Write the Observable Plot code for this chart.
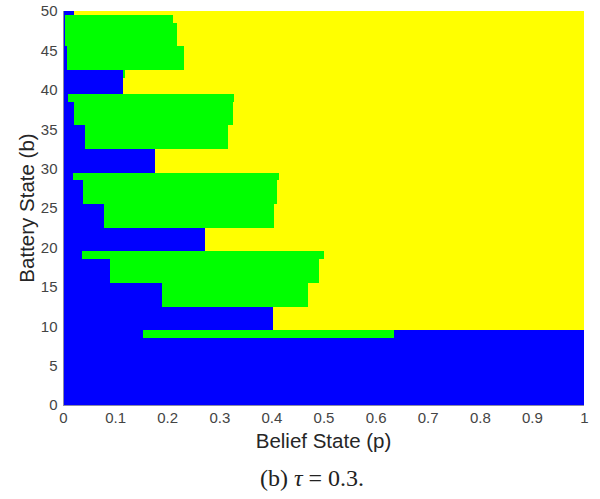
<!DOCTYPE html>
<html>
<head>
<meta charset="utf-8">
<script src="https://cdn.jsdelivr.net/npm/d3@7"></script>
<script src="https://cdn.jsdelivr.net/npm/@observablehq/plot@0.6"></script>
<style>
  body { margin: 0; background: #fff; }
  #wrap { position: relative; width: 600px; height: 499px; }
  #caption { position: absolute; left: 0; top: 464px; width: 600px; padding-left: 24px; box-sizing: border-box;
             text-align: center; font-family: "Liberation Serif", "Times New Roman", serif; font-size: 24px; color: #222; line-height: 28px; }
</style>
</head>
<body>
<div id="wrap"></div>
<script>
// Battery states (rows of the policy map)
const battery = [0,1,2,3,4,5,6,7,8,9,10,11,12,13,14,15,16,17,18,19,20,21,22,23,24,25,26,27,28,29,30,31,32,33,34,35,36,37,38,39,40,41,42,43,44,45,46,47,48,49,50];
// Belief threshold where action 1 (blue) ends
const action1End = [1,1,1,1,1,1,1,1,1,0.154,
  0.4025,0.4025,0.4025,0.19,0.19,0.19,0.09,0.09,0.09,0.037,
  0.272,0.272,0.272,0.079,0.079,0.079,0.039,0.039,0.039,0.020,
  0.177,0.177,0.177,0.042,0.042,0.042,0.021,0.021,0.021,0.010,
  0.1145,0.1145,0.1145,0.007,0.007,0.007,0.004,0.004,0.004,0.003,
  0.021];
// Belief threshold where action 2 (green) ends
const action2End = [1,1,1,1,1,1,1,1,1,0.636,
  0.4025,0.4025,0.4025,0.47,0.47,0.47,0.492,0.492,0.492,0.50,
  0.272,0.272,0.272,0.405,0.405,0.405,0.411,0.411,0.411,0.415,
  0.177,0.177,0.177,0.317,0.317,0.317,0.326,0.326,0.326,0.329,
  0.1145,0.1145,0.119,0.232,0.232,0.232,0.218,0.218,0.218,0.2105,
  0.021];
// Action taken above the second threshold
const tailAction = ["A1","A1","A1","A1","A1","A1","A1","A1","A1","A1",
  "A3","A3","A3","A3","A3","A3","A3","A3","A3","A3",
  "A3","A3","A3","A3","A3","A3","A3","A3","A3","A3",
  "A3","A3","A3","A3","A3","A3","A3","A3","A3","A3",
  "A3","A3","A3","A3","A3","A3","A3","A3","A3","A3",
  "A3"];
const actions = ["A1","A2","A3"];
const xTicks = [0,0.1,0.2,0.3,0.4,0.5,0.6,0.7,0.8,0.9,1];
const xTickLabels = ["0","0.1","0.2","0.3","0.4","0.5","0.6","0.7","0.8","0.9","1"];
const yTicks = [0,5,10,15,20,25,30,35,40,45,50];

const cells = [];
battery.forEach((b, i) => {
  const y1 = Math.max(0, b - 0.5), y2 = Math.min(50, b + 0.5);
  const segs = [[0, action1End[i], "A1"], [action1End[i], action2End[i], "A2"], [action2End[i], 1, tailAction[i]]];
  for (const [x1, x2, a] of segs) if (x2 > x1) cells.push({b, x1, x2, y1, y2, action: a});
});

const W = 600, H = 455, ML = 63, MR = 16, MT = 11, MB = 50;
const chart = Plot.plot({
  width: W, height: H,
  marginLeft: ML, marginRight: MR, marginTop: MT, marginBottom: MB,
  style: {fontFamily: "'Liberation Sans', Arial, sans-serif", fontSize: "15px", color: "#444", background: "white", overflow: "visible"},
  x: {domain: [0, 1], ticks: xTicks, tickFormat: (d, i) => xTickLabels[i], label: null, tickSize: 0, tickPadding: 7},
  y: {domain: [0, 50], ticks: yTicks, label: null, tickSize: 0, tickPadding: 6},
  color: {domain: actions, range: ["#0000ff", "#00ff00", "#ffff00"]},
  marks: [
    Plot.rect(cells, {x1: "x1", x2: "x2", y1: "y1", y2: "y2", fill: "action", shapeRendering: "crispEdges"}),
    Plot.ruleX([0], {stroke: "#8a8aa8", strokeWidth: 1}),
    Plot.ruleY([0], {stroke: "#8a8aa8", strokeWidth: 1})
  ]
});

const svg = d3.select(chart);
svg.append("text")
  .attr("x", ML + (W - ML - MR) / 2).attr("y", 448)
  .attr("text-anchor", "middle")
  .style("font-family", "'Liberation Sans', Arial, sans-serif").style("font-size", "20.5px").attr("fill", "#262626")
  .text("Belief State (p)");
svg.append("text")
  .attr("transform", `translate(34,${MT + (H - MT - MB) / 2}) rotate(-90)`)
  .attr("text-anchor", "middle")
  .style("font-family", "'Liberation Sans', Arial, sans-serif").style("font-size", "20.5px").attr("fill", "#262626")
  .text("Battery State (b)");

const wrap = document.getElementById("wrap");
wrap.appendChild(chart);
const cap = document.createElement("div");
cap.id = "caption";
cap.innerHTML = "(b) <i>τ</i> = 0.3.";
wrap.appendChild(cap);
</script>
</body>
</html>
